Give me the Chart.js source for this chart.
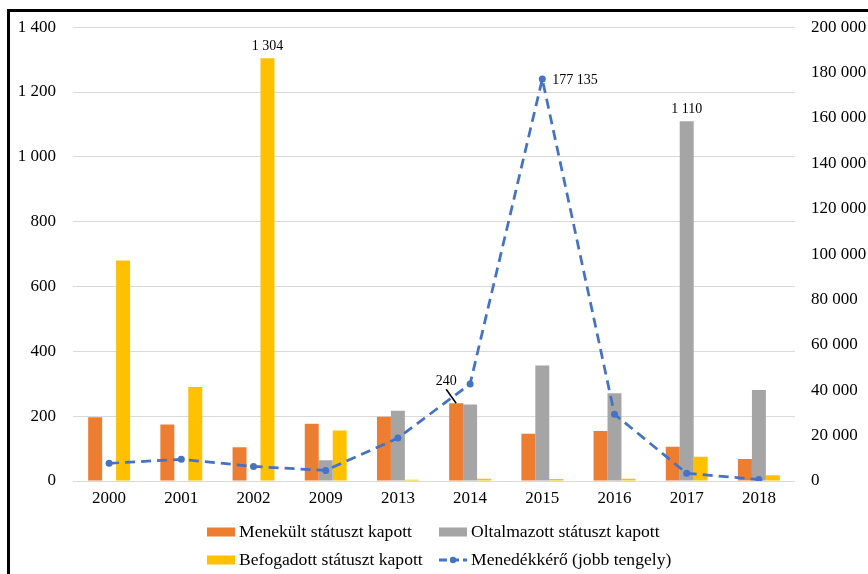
<!DOCTYPE html>
<html>
<head>
<meta charset="utf-8">
<script src="https://cdn.jsdelivr.net/npm/chart.js@4/dist/chart.umd.min.js"></script>
<style>
  html, body { margin: 0; padding: 0; background: #fff; }
  #wrap { position: relative; width: 868px; height: 574px; overflow: hidden; }
  #c { position: absolute; left: 0; top: 0; }
  #frame { position: absolute; left: 7px; top: 9px; right: -10px; bottom: -10px;
           border-left: 3px solid #000; border-top: 3px solid #000; pointer-events: none; }
</style>
</head>
<body>
<div id="wrap">
  <canvas id="c" width="868" height="574"></canvas>
  <div id="frame"></div>
</div>
<script>
// Years shown on the category axis
const years = ['2000', '2001', '2002', '2009', '2013', '2014', '2015', '2016', '2017', '2018'];

// Decisions per year (left axis)
const menekult    = [197, 174, 104, 177, 198, 240, 146, 154, 106, 68];
const oltalmazott = [null, null, null, 64, 217, 236, 356, 271, 1110, 281];
const befogadott  = [680, 290, 1304, 156, 4, 7, 6, 7, 75, 18];

// Asylum applications per year (right axis)
const menedekkero = [7801, 9554, 6412, 4672, 18900, 42777, 177135, 29432, 3397, 671];

// Series names
const seriesNames = [
  'Menekült státuszt kapott',
  'Oltalmazott státuszt kapott',
  'Befogadott státuszt kapott',
  'Menedékkérő (jobb tengely)'
];

// Axis ranges
const leftMax = 1400, leftStep = 200;
const rightMax = 200000, rightStep = 20000;

const FONT = '"Liberation Serif", "Times New Roman", serif';
const COLORS = ['#ED7D31', '#A5A5A5', '#FFC000', '#4472C4'];

function fmt(v) {
  return String(v).replace(/\B(?=(\d{3})+(?!\d))/g, ' ');
}

function maxIndex(arr) {
  let best = -1;
  arr.forEach((v, i) => { if (v != null && (best < 0 || v > arr[best])) best = i; });
  return best;
}

// Labels for the largest value of each series
const peakLabels = {
  id: 'peakLabels',
  afterDatasetsDraw(chart) {
    const ctx = chart.ctx;
    ctx.save();
    ctx.font = '14px ' + FONT;
    ctx.fillStyle = '#000';
    ctx.strokeStyle = '#000';
    chart.data.datasets.forEach((ds, di) => {
      const idx = maxIndex(ds.data);
      const el = chart.getDatasetMeta(di).data[idx];
      if (!el) return;
      const txt = fmt(ds.data[idx]);
      if (ds.type === 'line') {
        ctx.textAlign = 'left';
        ctx.textBaseline = 'middle';
        ctx.fillText(txt, el.x + 10, el.y + 1);
      } else if (di === 0) {
        // the line passes over this bar, so the label sits aside with a leader
        ctx.lineWidth = 1.5;
        ctx.beginPath();
        ctx.moveTo(el.x, el.y);
        ctx.lineTo(el.x - 10, el.y - 14);
        ctx.stroke();
        ctx.textAlign = 'center';
        ctx.textBaseline = 'bottom';
        ctx.fillText(txt, el.x - 10, el.y - 15);
      } else {
        ctx.textAlign = 'center';
        ctx.textBaseline = 'bottom';
        ctx.fillText(txt, el.x, el.y - 5);
      }
    });
    ctx.restore();
  }
};

// Two-column legend under the plot
const gridLegend = {
  id: 'gridLegend',
  afterDraw(chart) {
    const ctx = chart.ctx;
    ctx.save();
    ctx.font = '17.6px ' + FONT;
    ctx.textBaseline = 'middle';
    ctx.textAlign = 'left';
    const colX = [207, 439];
    const rowY = [532, 560];
    chart.data.datasets.forEach((ds, i) => {
      const x = colX[i % 2], y = rowY[Math.floor(i / 2)];
      if (ds.type === 'line') {
        ctx.strokeStyle = ds.borderColor;
        ctx.lineWidth = 3;
        ctx.setLineDash([8, 4]);
        ctx.beginPath();
        ctx.moveTo(x, y);
        ctx.lineTo(x + 28, y);
        ctx.stroke();
        ctx.setLineDash([]);
        ctx.fillStyle = ds.borderColor;
        ctx.beginPath();
        ctx.arc(x + 14, y, 3.2, 0, Math.PI * 2);
        ctx.fill();
      } else {
        ctx.fillStyle = ds.backgroundColor;
        ctx.fillRect(x, y - 4.5, 28, 9);
      }
      ctx.fillStyle = '#000';
      ctx.fillText(ds.label, x + 32, y);
    });
    ctx.restore();
  }
};

new Chart(document.getElementById('c'), {
  data: {
    labels: years,
    datasets: [
      { type: 'bar', label: seriesNames[0], data: menekult, backgroundColor: COLORS[0], yAxisID: 'y', order: 1 },
      { type: 'bar', label: seriesNames[1], data: oltalmazott, backgroundColor: COLORS[1], yAxisID: 'y', order: 1 },
      { type: 'bar', label: seriesNames[2], data: befogadott, backgroundColor: COLORS[2], yAxisID: 'y', order: 1 },
      { type: 'line', label: seriesNames[3], data: menedekkero, yAxisID: 'y2', order: 0,
        borderColor: COLORS[3], backgroundColor: COLORS[3], borderWidth: 2.75,
        borderDash: [10, 6], tension: 0, fill: false,
        pointRadius: 3.5, pointBackgroundColor: COLORS[3], pointBorderWidth: 0 }
    ]
  },
  options: {
    responsive: false,
    animation: false,
    layout: { padding: { top: 19, left: 0, right: 0, bottom: 0 } },
    datasets: { bar: { barPercentage: 1, categoryPercentage: 0.58 } },
    plugins: { legend: { display: false }, tooltip: { enabled: false } },
    scales: {
      x: {
        offset: true,
        grid: { display: false, drawTicks: false },
        border: { display: false },
        ticks: { color: '#000', font: { family: FONT, size: 17 }, padding: 7, maxRotation: 0 },
        afterFit(s) { s.height = 93; }
      },
      y: {
        position: 'left',
        min: 0, max: leftMax,
        grid: { color: '#D9D9D9', lineWidth: 1, drawTicks: false },
        border: { display: false },
        ticks: { stepSize: leftStep, color: '#000', font: { family: FONT, size: 17 }, padding: 17,
                 callback: v => fmt(v) },
        afterFit(s) { s.width = 73; }
      },
      y2: {
        position: 'right',
        min: 0, max: rightMax,
        grid: { display: false, drawTicks: false },
        border: { display: false },
        ticks: { stepSize: rightStep, color: '#000', font: { family: FONT, size: 17 }, padding: 16,
                 callback: v => fmt(v) },
        afterFit(s) { s.width = 73; }
      }
    }
  },
  plugins: [peakLabels, gridLegend]
});
</script>
</body>
</html>
